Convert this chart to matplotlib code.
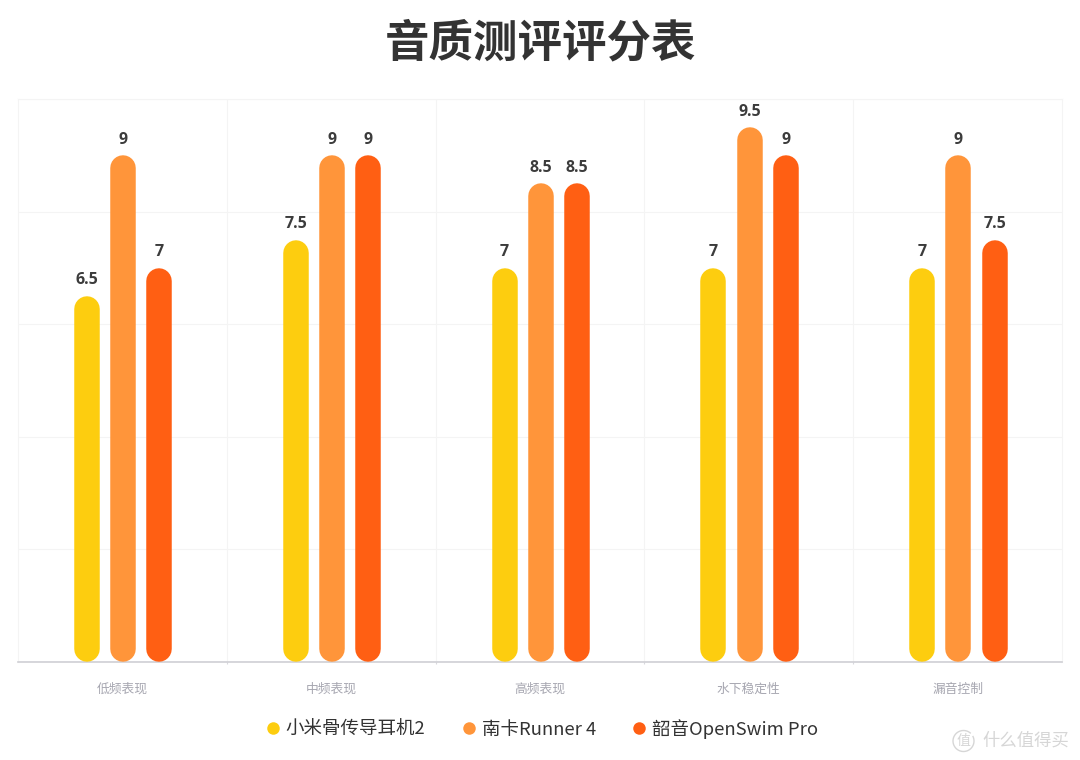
import numpy as np
import matplotlib
matplotlib.use("Agg")
import matplotlib.pyplot as plt
from matplotlib.lines import Line2D

plt.rcParams['font.family'] = ['Noto Sans CJK SC', 'DejaVu Sans']

# scores per category
categories = ["低频表现", "中频表现", "高频表现", "水下稳定性", "漏音控制"]
names = ["小米骨传导耳机2", "南卡Runner 4", "韶音OpenSwim Pro"]
xiaomi = [6.5, 7.5, 7, 7, 7]
nank = [9, 9, 8.5, 9.5, 9]
shokz = [7, 9, 8.5, 9, 7.5]
colors = ["#FDCD0F", "#FF953A", "#FF5F13"]

W, H = 1080, 760
fig = plt.figure(figsize=(W / 100, H / 100), dpi=100)
left, right, top, bottom = 18, 1062, 99, 662
ax = fig.add_axes([left / W, 1 - bottom / H, (right - left) / W, (bottom - top) / H])
ax.set_xlim(0, 5)
ax.set_ylim(0, 10)

# pixel size of one data unit
px_x = (right - left) / 5
px_y = (bottom - top) / 10
bar_px = 25.5
step = 36.2 / px_x
nudge = 0.8 / px_x
cap = bar_px / 2 / px_y

# light grid behind the bars
ax.set_yticks(np.arange(0, 11, 2))
ax.set_xticks(np.arange(1, 5))
ax.grid(True, color="#F4F4F4", linewidth=0.8)
ax.set_axisbelow(True)
for s in ["top", "left", "right"]:
    ax.spines[s].set_color("#F4F4F4")
    ax.spines[s].set_linewidth(0.8)
ax.spines["bottom"].set_color("#CFCFD4")
ax.spines["bottom"].set_linewidth(1.2)
ax.tick_params(axis="y", length=0, labelleft=False)
ax.tick_params(axis="x", length=1.5, color="#D8D8DC", labelbottom=False)

for i, (series, c) in enumerate(zip([xiaomi, nank, shokz], colors)):
    for j, v in enumerate(series):
        xc = j + 0.5 + nudge + (i - 1) * step
        # capsule shaped bar: thick line with round caps, the caps end on 0 and on v
        ax.plot([xc, xc], [cap, v - cap], color=c, linewidth=bar_px * 0.72,
                solid_capstyle="round", zorder=3, clip_on=False)
        ax.annotate(f"{v:g}", (xc, v), xytext=(0, 5.5), textcoords="offset points",
                    ha="center", va="bottom", fontsize=11.5, fontweight="bold",
                    family="Open Sans", color="#3C3C3C", zorder=4)

# category names under the axis
for j, name in enumerate(categories):
    ax.annotate(name, (j + 0.5, 0), xytext=(0, -19.5), textcoords="offset points",
                ha="center", va="center", fontsize=9.2, color="#A6A6B0",
                annotation_clip=False)

fig.text(541 / W, 1 - 43 / H, "音质测评评分表", ha="center", va="center",
         fontsize=32, fontweight="bold", color="#333333")

handles = [Line2D([], [], linestyle="none", marker="o", markersize=9,
                  markerfacecolor=c, markeredgecolor="none") for c in colors]
fig.legend(handles, names, loc="center", bbox_to_anchor=(540 / W, 1 - 729 / H),
           ncol=3, frameon=False, fontsize=13.3, labelcolor="#333333",
           handletextpad=0.1, columnspacing=1.75, handlelength=1.2, borderpad=0)

# site mark in the lower right corner
wm = "#D6D6D6"
t = np.linspace(np.radians(50), np.radians(385), 60)
fig.add_artist(Line2D((963.5 + 10.5 * np.cos(t)) / W, 1 - (741 - 10.5 * np.sin(t)) / H,
                      color=wm, linewidth=1))
fig.text(963 / W, 1 - 741 / H, "值", ha="center", va="center", fontsize=10, color=wm)
fig.text(982 / W, 1 - 741 / H, "什么值得买", ha="left", va="center", fontsize=12.5, color=wm)

fig.savefig("out.png", dpi=100)
